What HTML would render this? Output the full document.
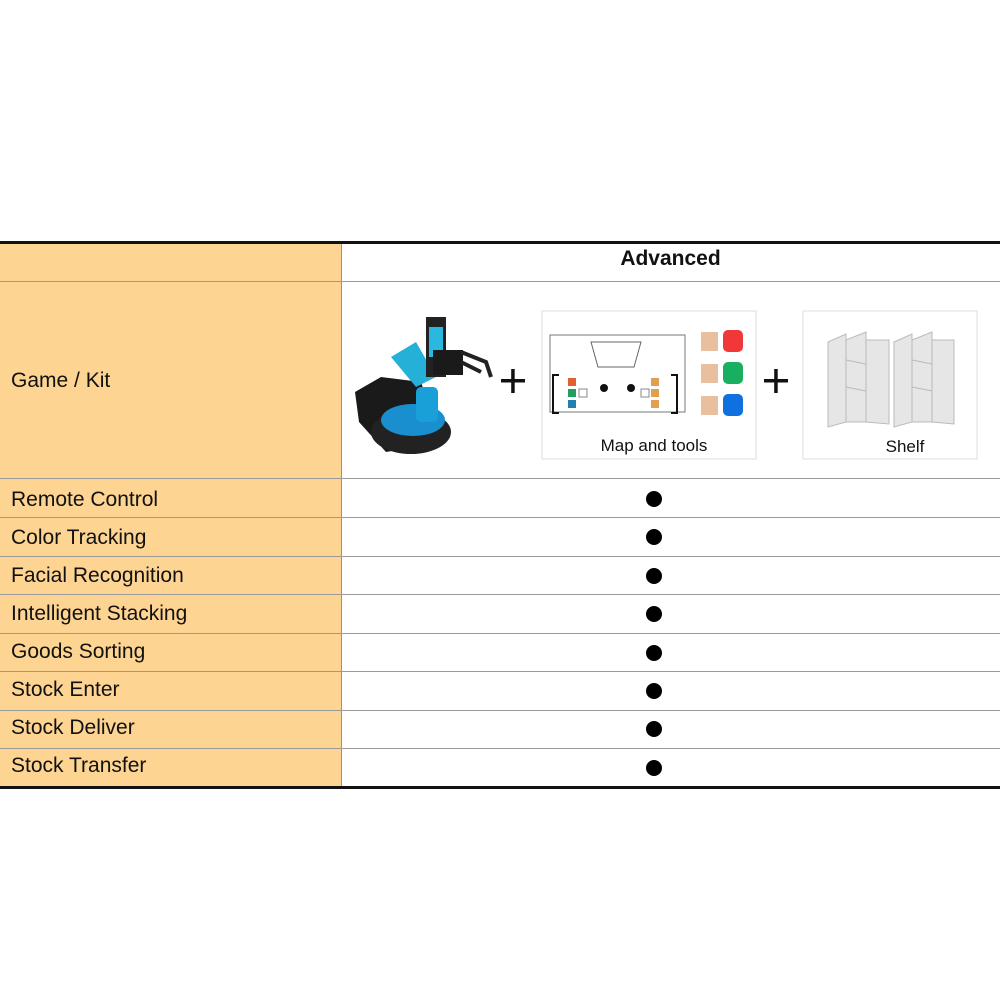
<!DOCTYPE html>
<html><head><meta charset="utf-8"><style>
body{margin:0;width:1000px;height:1000px;background:#fff;position:relative;font-family:"Liberation Sans",Arial,sans-serif;overflow:hidden}
.a{position:absolute}
.lc{position:absolute;left:0;width:341px;background:#fdd491}
.hl{position:absolute;left:0;width:1000px;height:1px;background:#9a9a9a}
.lbl{position:absolute;left:11px;font-size:21px;color:#111}
.dot{position:absolute;left:646px;width:16px;height:16px;border-radius:50%;background:#000}
</style></head><body>
<div class="lc" style="top:244px;height:543px"></div>
<div class="a" style="left:341px;top:244px;width:1px;height:543px;background:#a89070"></div>
<div class="a" style="left:0;top:241px;width:1000px;height:3px;background:#111"></div>
<div class="a" style="left:0;top:786px;width:1000px;height:3px;background:#111"></div>
<div class="a" style="left:341px;top:247px;width:659px;text-align:center;font-size:21px;font-weight:bold;color:#111">Advanced</div>
<div class="hl" style="top:281px"></div>
<div class="hl" style="top:478px"></div>
<div class="hl" style="top:517px"></div>
<div class="hl" style="top:556px"></div>
<div class="hl" style="top:594px"></div>
<div class="hl" style="top:633px"></div>
<div class="hl" style="top:671px"></div>
<div class="hl" style="top:710px"></div>
<div class="hl" style="top:748px"></div>
<div class="lbl" style="top:369px">Game / Kit</div>
<div class="lbl" style="top:488px">Remote Control</div>
<div class="lbl" style="top:526px">Color Tracking</div>
<div class="lbl" style="top:564px">Facial Recognition</div>
<div class="lbl" style="top:602px">Intelligent Stacking</div>
<div class="lbl" style="top:640px">Goods Sorting</div>
<div class="lbl" style="top:678px">Stock Enter</div>
<div class="lbl" style="top:716px">Stock Deliver</div>
<div class="lbl" style="top:754px">Stock Transfer</div>
<div class="dot" style="top:491px"></div>
<div class="dot" style="top:529px"></div>
<div class="dot" style="top:568px"></div>
<div class="dot" style="top:606px"></div>
<div class="dot" style="top:645px"></div>
<div class="dot" style="top:683px"></div>
<div class="dot" style="top:721px"></div>
<div class="dot" style="top:760px"></div>
<svg class="a" style="left:341px;top:282px" width="659" height="196">
<polygon points="14,110 40,95 80,100 90,130 75,165 45,170 18,140" fill="#1a1a1a"/>
<ellipse cx="70" cy="150" rx="40" ry="22" fill="#222"/>
<ellipse cx="72" cy="138" rx="32" ry="16" fill="#1a8fd0"/>
<rect x="75" y="105" width="22" height="35" fill="#1aa0d8" rx="5"/>
<polygon points="50,75 75,60 95,95 75,105" fill="#25b0d8"/>
<rect x="85" y="35" width="20" height="60" fill="#222"/>
<rect x="88" y="45" width="14" height="30" fill="#2ab8e0"/>
<rect x="92" y="68" width="30" height="25" fill="#1a1a1a"/>
<path d="M120,70 L145,80 L150,95 M120,80 L140,90" stroke="#222" stroke-width="4" fill="none"/>
<rect x="160" y="97" width="24" height="3.5" fill="#111"/><rect x="170.2" y="87" width="3.5" height="24" fill="#111"/>
<rect x="423" y="97" width="24" height="3.5" fill="#111"/><rect x="433.2" y="87" width="3.5" height="24" fill="#111"/>
<rect x="201" y="29" width="214" height="148" fill="#fff" stroke="#ddd"/>
<rect x="209" y="53" width="135" height="77" fill="#fff" stroke="#777"/>
<polygon points="250,60 300,60 293,85 257,85" fill="none" stroke="#666"/>
<path d="M218,93 h-6 v38 h6 M330,93 h6 v38 h-6" stroke="#111" stroke-width="2" fill="none"/>
<rect x="227" y="96" width="8" height="8" fill="#e06030"/><rect x="227" y="107" width="8" height="8" fill="#20a060"/><rect x="227" y="118" width="8" height="8" fill="#2080b0"/>
<rect x="238" y="107" width="8" height="8" fill="#fff" stroke="#888"/>
<circle cx="263" cy="106" r="4" fill="#111"/><circle cx="290" cy="106" r="4" fill="#111"/>
<rect x="310" y="96" width="8" height="8" fill="#e0a050"/><rect x="310" y="107" width="8" height="8" fill="#e0a050"/><rect x="310" y="118" width="8" height="8" fill="#e0a050"/>
<rect x="300" y="107" width="8" height="8" fill="#fff" stroke="#888"/>
<rect x="360" y="50" width="17" height="19" fill="#e8c0a0"/><rect x="382" y="48" width="20" height="22" rx="5" fill="#f03838"/>
<rect x="360" y="82" width="17" height="19" fill="#e8c0a0"/><rect x="382" y="80" width="20" height="22" rx="5" fill="#18b060"/>
<rect x="360" y="114" width="17" height="19" fill="#e8c0a0"/><rect x="382" y="112" width="20" height="22" rx="5" fill="#1070e0"/>
<text x="313" y="169" text-anchor="middle" font-family="Liberation Sans,Arial" font-size="17" fill="#111">Map and tools</text>
<rect x="462" y="29" width="174" height="148" fill="#fff" stroke="#ddd"/>
<g fill="#e6e6e6" stroke="#bbb">
<polygon points="487,60 505,52 505,140 487,145"/>
<polygon points="505,58 525,50 525,140 505,140"/>
<polygon points="525,58 548,58 548,142 525,140"/>
<line x1="505" y1="78" x2="525" y2="82"/><line x1="505" y1="105" x2="525" y2="109"/>
<polygon points="553,60 571,52 571,140 553,145"/>
<polygon points="571,58 591,50 591,140 571,140"/>
<polygon points="591,58 613,58 613,142 591,140"/>
<line x1="571" y1="78" x2="591" y2="82"/><line x1="571" y1="105" x2="591" y2="109"/>
</g>
<text x="564" y="170" text-anchor="middle" font-family="Liberation Sans,Arial" font-size="17" fill="#111">Shelf</text>
</svg>
</body></html>
